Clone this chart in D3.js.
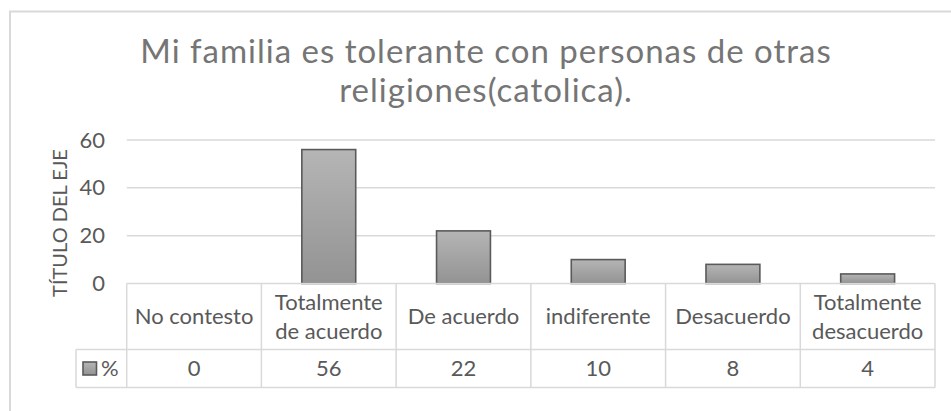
<!DOCTYPE html>
<html>
<head>
<meta charset="utf-8">
<script src="https://cdn.jsdelivr.net/npm/d3@7/dist/d3.min.js"></script>
<style>
  html, body { margin: 0; padding: 0; background: #fff; }
  svg { display: block; }
  text { font-family: Lato, "Open Sans", sans-serif; fill: #595959; }
</style>
</head>
<body>
<svg id="chart" width="951" height="411"></svg>
<script>
const titleLines = ["Mi familia es tolerante con personas de otras", "religiones(catolica)."];
const categories = ["No contesto", "Totalmente de acuerdo", "De acuerdo", "indiferente", "Desacuerdo", "Totalmente desacuerdo"];
const categoryLines = [["No contesto"], ["Totalmente", "de acuerdo"], ["De acuerdo"], ["indiferente"], ["Desacuerdo"], ["Totalmente", "desacuerdo"]];
const seriesName = "%";
const values = [0, 56, 22, 10, 8, 4];
const yTicks = [0, 20, 40, 60];
const yTitle = "TÍTULO DEL EJE";

const svg = d3.select("#chart");
const plotL = 126.7, plotR = 935, plotT = 140, plotB = 283.5;
const catRowB = 349.5, valRowB = 387.5, legendL = 76;
const grid = "#d9d9d9";

// gradient
const defs = svg.append("defs");
const grad = defs.append("linearGradient").attr("id", "barGrad").attr("x1", 0).attr("y1", 0).attr("x2", 0).attr("y2", 1);
grad.append("stop").attr("offset", "0%").attr("stop-color", "#b5b5b5");
grad.append("stop").attr("offset", "100%").attr("stop-color", "#939393");

// chart border (cropped at right/bottom)
svg.append("rect").attr("x", 10).attr("y", 11.5).attr("width", 990).attr("height", 450)
  .attr("fill", "none").attr("stroke", grid).attr("stroke-width", 2);

// title
svg.append("g").selectAll("text").data(titleLines).join("text")
  .attr("x", 486).attr("y", (d, i) => 63 + i * 39)
  .attr("text-anchor", "middle")
  .style("font-size", "33px").style("font-weight", 400).style("letter-spacing", "1px").style("fill", "#757575")
  .text(d => d);

const x = d3.scaleBand().domain(categories).range([plotL, plotR]).paddingInner(0).paddingOuter(0);
const y = d3.scaleLinear().domain([0, 60]).range([plotB, plotT]);

// gridlines
svg.append("g").selectAll("line").data(yTicks.filter(t => t > 0)).join("line")
  .attr("x1", plotL).attr("x2", plotR)
  .attr("y1", d => y(d)).attr("y2", d => y(d))
  .attr("stroke", grid).attr("stroke-width", 1.5);

// y axis labels
const yAxis = d3.axisLeft(y).tickValues(yTicks).tickSize(0).tickPadding(0);
const yg = svg.append("g").attr("transform", `translate(105,0)`).call(yAxis);
yg.select(".domain").remove();
yg.selectAll("text").style("font-size", "22px").style("fill", "#595959").style("font-family", "Lato, sans-serif");

// y title
svg.append("text")
  .attr("transform", `translate(66.5,223) rotate(-90)`)
  .attr("text-anchor", "middle")
  .style("font-size", "20px")
  .text(yTitle);

// bars
const bw = x.bandwidth() * 0.4;
svg.append("g").selectAll("rect").data(values).join("rect")
  .attr("x", (d, i) => x(categories[i]) + (x.bandwidth() - bw) / 2)
  .attr("y", d => y(d))
  .attr("width", bw)
  .attr("height", d => y(0) - y(d))
  .attr("fill", "url(#barGrad)")
  .attr("stroke", "#5a5a5a").attr("stroke-width", 1.6)
  .attr("display", d => d > 0 ? null : "none");

// data table lines
const tbl = svg.append("g").attr("stroke", grid).attr("stroke-width", 1.5).attr("fill", "none");
tbl.append("line").attr("x1", plotL).attr("x2", plotR).attr("y1", plotB).attr("y2", plotB);
tbl.append("line").attr("x1", legendL).attr("x2", plotR).attr("y1", catRowB).attr("y2", catRowB);
tbl.append("line").attr("x1", legendL).attr("x2", plotR).attr("y1", valRowB).attr("y2", valRowB);
tbl.append("line").attr("x1", legendL).attr("x2", legendL).attr("y1", catRowB).attr("y2", valRowB);
tbl.selectAll(".vline").data(categories.map(c => x(c)).concat([plotR])).join("line")
  .attr("class", "vline")
  .attr("x1", d => d).attr("x2", d => d).attr("y1", plotB).attr("y2", valRowB);

// category labels
const catG = svg.append("g").selectAll("text").data(categoryLines).join("text")
  .attr("text-anchor", "middle")
  .style("font-size", "22px");
catG.each(function(lines, i) {
  const cx = x(categories[i]) + x.bandwidth() / 2;
  const mid = (plotB + catRowB) / 2;
  const lh = 28.5;
  const start = mid - (lines.length - 1) * lh / 2;
  d3.select(this).selectAll("tspan").data(lines).join("tspan")
    .attr("x", cx).attr("y", (d, j) => start + j * lh).attr("dy", "0.36em").text(d => d);
});

// value labels
svg.append("g").selectAll("text").data(values).join("text")
  .attr("x", (d, i) => x(categories[i]) + x.bandwidth() / 2)
  .attr("y", (catRowB + valRowB) / 2).attr("dy", "0.36em")
  .attr("text-anchor", "middle")
  .style("font-size", "22px")
  .text(d => d);

// legend key
svg.append("rect").attr("x", 83).attr("y", 362).attr("width", 13.5).attr("height", 13)
  .attr("fill", "url(#barGrad)").attr("stroke", "#5a5a5a").attr("stroke-width", 1.6);
svg.append("text").attr("x", 101).attr("y", (catRowB + valRowB) / 2).attr("dy", "0.36em")
  .style("font-size", "22px").text(seriesName);
</script>
</body>
</html>
